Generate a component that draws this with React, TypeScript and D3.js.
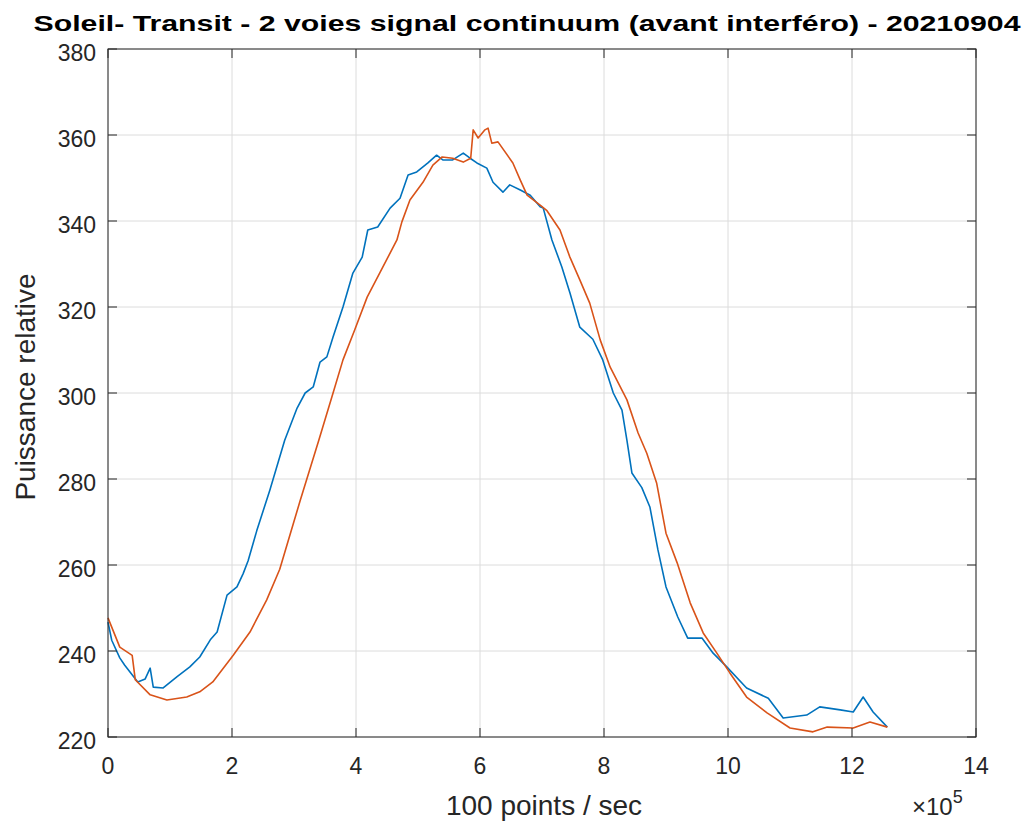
import React from "react";
import * as d3 from "d3";

const xTicks = [0, 2, 4, 6, 8, 10, 12, 14];
const yTicks = [220, 240, 260, 280, 300, 320, 340, 360, 380];

const blueX = [0, 0.06, 0.19, 0.27, 0.48, 0.6, 0.68, 0.73, 0.89, 1.11, 1.32, 1.48, 1.65, 1.76, 1.92, 2.08, 2.18, 2.26, 2.4, 2.61, 2.85, 3.05, 3.18, 3.31, 3.42, 3.53, 3.63, 3.79, 3.95, 4.1, 4.19, 4.35, 4.55, 4.71, 4.84, 4.98, 5.16, 5.3, 5.4, 5.56, 5.73, 5.84, 5.95, 6.11, 6.21, 6.37, 6.48, 6.65, 6.81, 6.97, 7.02, 7.16, 7.32, 7.45, 7.61, 7.82, 7.98, 8.15, 8.29, 8.37, 8.45, 8.61, 8.74, 8.87, 9.0, 9.19, 9.35, 9.58, 9.76, 9.98, 10.3, 10.65, 10.89, 11.27, 11.48, 11.81, 12.02, 12.18, 12.34, 12.57];
const blueY = [246.7, 242.5, 238.4, 236.7, 232.8, 233.5, 236, 231.6, 231.4, 234, 236.3, 238.6, 242.6, 244.4, 253, 254.9, 258, 261, 268, 277.4, 289, 296.5, 300, 301.4, 307.2, 308.4, 313, 320, 327.9, 331.6, 337.9, 338.6, 343, 345.3, 350.7, 351.4, 353.5, 355.3, 354.2, 354.2, 355.8, 354.6, 353.5, 352.3, 349, 346.7, 348.4, 347.2, 346, 343.3, 343, 335.6, 329.3, 323.3, 315.3, 312.5, 307.7, 300, 296, 289, 281.4, 278, 273.5, 263.5, 254.9, 247.9, 243, 243, 239.5, 236.3, 231.4, 229, 224.4, 225.1, 227, 226.3, 225.8, 229.3, 225.8, 222.3];

const orangeX = [0, 0.19, 0.39, 0.44, 0.68, 0.95, 1.27, 1.48, 1.69, 2.02, 2.29, 2.56, 2.77, 3.1, 3.4, 3.63, 3.79, 3.98, 4.18, 4.39, 4.66, 4.74, 4.87, 5.08, 5.24, 5.39, 5.56, 5.73, 5.85, 5.89, 5.97, 6.08, 6.13, 6.19, 6.29, 6.53, 6.65, 6.76, 6.97, 7.08, 7.29, 7.45, 7.61, 7.77, 7.94, 8.1, 8.37, 8.55, 8.69, 8.85, 9.0, 9.18, 9.39, 9.6, 9.82, 10.03, 10.3, 10.63, 11.0, 11.37, 11.6, 12.02, 12.29, 12.57];
const orangeY = [247.7, 240.9, 239, 233.3, 229.8, 228.6, 229.3, 230.5, 232.8, 239, 244.4, 251.9, 259, 275, 289, 300, 307.7, 314.7, 322.3, 328.1, 335.6, 339.8, 344.9, 349, 353, 354.9, 354.6, 353.7, 354.6, 361.2, 359.3, 361.2, 361.6, 358.1, 358.4, 353.5, 349.5, 346, 343.7, 342.4, 337.9, 331.6, 326.3, 320.9, 312.3, 306, 298.4, 290.7, 286, 279, 267.4, 260.5, 251.2, 244.2, 239.5, 234.9, 229.3, 225.6, 222.1, 221.2, 222.3, 222.1, 223.5, 222.3];

const W = 1026, H = 821;
const L = 108, R = 976, T = 49, B = 737;
const axisColor = "#262626";
const font = "'Liberation Sans', Arial, Helvetica, sans-serif";

export default function App() {
  const x = d3.scaleLinear().domain([0, 14]).range([L, R]);
  const y = d3.scaleLinear().domain([220, 380]).range([B, T]);
  const line = d3.line<number>().x((d: any) => x(d[0])).y((d: any) => y(d[1]));
  const blue = blueX.map((v, i) => [v, blueY[i]]);
  const orange = orangeX.map((v, i) => [v, orangeY[i]]);
  const tickLen = 9;
  return (
    <svg width={W} height={H} style={{ position: "absolute", left: 0, top: 0, background: "#fff" }} fontFamily={font}>
      <rect x={0} y={0} width={W} height={H} fill="#fff" />
      {xTicks.map((t) => (
        <line key={"gx" + t} x1={x(t)} x2={x(t)} y1={T} y2={B} stroke="#dcdcdc" strokeWidth={1} />
      ))}
      {yTicks.map((t) => (
        <line key={"gy" + t} x1={L} x2={R} y1={y(t)} y2={y(t)} stroke="#dcdcdc" strokeWidth={1} />
      ))}
      <path d={line(blue as any) || ""} fill="none" stroke="#0072BD" strokeWidth={1.6} strokeLinejoin="round" />
      <path d={line(orange as any) || ""} fill="none" stroke="#D95319" strokeWidth={1.6} strokeLinejoin="round" />
      <rect x={L} y={T} width={R - L} height={B - T} fill="none" stroke={axisColor} strokeWidth={1} />
      {xTicks.map((t) => (
        <g key={"tx" + t}>
          <line x1={x(t)} x2={x(t)} y1={B} y2={B - tickLen} stroke={axisColor} />
          <line x1={x(t)} x2={x(t)} y1={T} y2={T + tickLen} stroke={axisColor} />
          <text x={x(t)} y={774} textAnchor="middle" fontSize={23} fill={axisColor}>{t}</text>
        </g>
      ))}
      {yTicks.map((t) => (
        <g key={"ty" + t}>
          <line x1={L} x2={L + tickLen} y1={y(t)} y2={y(t)} stroke={axisColor} />
          <line x1={R} x2={R - tickLen} y1={y(t)} y2={y(t)} stroke={axisColor} />
          <text x={96} y={y(t) + 12} textAnchor="end" fontSize={23} fill={axisColor}>{t}</text>
        </g>
      ))}
      <text x={544} y={815} textAnchor="middle" fontSize={28} fill={axisColor}>100 points / sec</text>
      <text transform={`translate(35,387) rotate(-90)`} textAnchor="middle" fontSize={28} fill={axisColor}>Puissance relative</text>
      <text x={912} y={815} fontSize={24} fill={axisColor}>×10<tspan dy={-12} fontSize={18}>5</tspan></text>
      <text x={527} y={31} textAnchor="middle" fontSize={22} fontWeight="bold" fill="#000" textLength={987} lengthAdjust="spacingAndGlyphs">Soleil- Transit - 2 voies signal continuum (avant interféro) - 20210904</text>
    </svg>
  );
}
